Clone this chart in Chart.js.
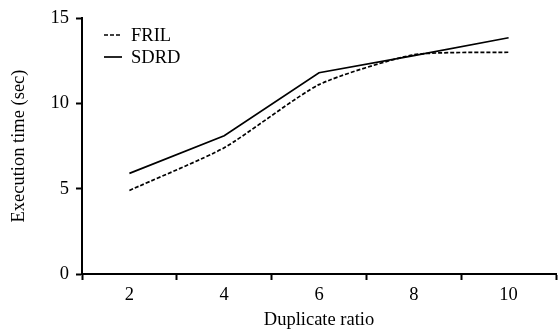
<!DOCTYPE html>
<html>
<head>
<meta charset="utf-8">
<script src="https://cdn.jsdelivr.net/npm/chart.js@4"></script>
<style>
html,body{margin:0;padding:0;background:#fff;}
#wrap{width:559px;height:335px;}
</style>
</head>
<body>
<div id="wrap"><canvas id="c" width="559" height="335"></canvas></div>
<script>
const categories = ['2', '4', '6', '8', '10'];
const frilValues = [4.9, 7.4, 11.1, 12.85, 13.0];
const sdrdValues = [5.9, 8.1, 11.8, 12.8, 13.85];
const seriesNames = ['FRIL', 'SDRD'];
const yTicks = [0, 5, 10, 15];
const xTitle = 'Duplicate ratio';
const yTitle = 'Execution time (sec)';

const FONT = '"Liberation Serif", "Times New Roman", serif';
const FS = 18.5;

const legendPlugin = {
  id: 'insideLegend',
  afterDraw(chart) {
    const ctx = chart.ctx;
    ctx.save();
    chart.data.datasets.forEach((ds, i) => {
      const y = 35 + i * 22;
      ctx.beginPath();
      ctx.strokeStyle = '#000';
      ctx.lineWidth = ds.borderWidth;
      ctx.setLineDash(ds.borderDash || []);
      ctx.moveTo(104, y);
      ctx.lineTo(122, y);
      ctx.stroke();
      ctx.setLineDash([]);
      ctx.fillStyle = '#000';
      ctx.font = FS + 'px ' + FONT;
      ctx.textBaseline = 'middle';
      ctx.textAlign = 'left';
      ctx.fillText(ds.label, 131, y + 1);
    });
    ctx.restore();
  }
};

new Chart(document.getElementById('c'), {
  type: 'line',
  data: {
    labels: categories,
    datasets: [
      {label: seriesNames[0], data: frilValues, borderColor: '#000', borderWidth: 1.7,
       borderDash: [4, 2], pointRadius: 0, tension: 0.2, fill: false},
      {label: seriesNames[1], data: sdrdValues, borderColor: '#000', borderWidth: 1.7,
       pointRadius: 0, tension: 0, fill: false}
    ]
  },
  options: {
    responsive: false,
    animation: false,
    devicePixelRatio: 1,
    layout: {padding: {top: 16, right: 3, left: 0, bottom: 0}},
    plugins: {legend: {display: false}, tooltip: {enabled: false}},
    scales: {
      x: {
        type: 'category',
        offset: true,
        grid: {display: true, offset: true, drawOnChartArea: false, drawTicks: true,
               tickLength: 6, tickWidth: 2, tickColor: '#000', color: '#000'},
        border: {display: true, color: '#000', width: 2},
        ticks: {color: '#000', font: {family: FONT, size: FS}, padding: 4, maxRotation: 0},
        title: {display: true, text: xTitle, color: '#000', font: {family: FONT, size: FS},
                padding: {top: 0, bottom: 4}},
        afterFit(scale) { scale.height = 61; }
      },
      y: {
        min: 0, max: 15,
        afterBuildTicks(scale) { scale.ticks = yTicks.map(v => ({value: v})); },
        grid: {display: true, drawOnChartArea: false, drawTicks: true,
               tickLength: 6, tickWidth: 2, tickColor: '#000', color: '#000'},
        border: {display: true, color: '#000', width: 2},
        ticks: {color: '#000', font: {family: FONT, size: FS}, padding: 7},
        title: {display: true, text: yTitle, color: '#000', font: {family: FONT, size: FS},
                padding: {top: 8, bottom: 0}},
        afterFit(scale) { scale.width = 82; }
      }
    }
  },
  plugins: [legendPlugin]
});
</script>
</body>
</html>
